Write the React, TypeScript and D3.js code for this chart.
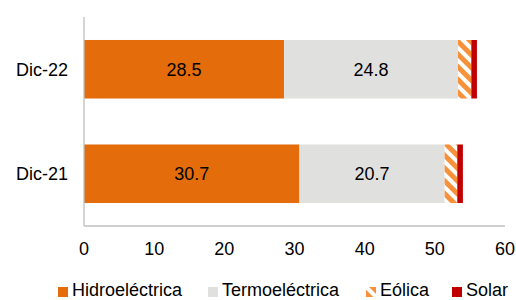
import { useEffect, useRef } from 'react'
import * as d3 from 'd3'

const categories = ['Dic-22', 'Dic-21']
const seriesNames = ['Hidroeléctrica', 'Termoeléctrica', 'Eólica', 'Solar']
const hidro = [28.5, 30.7]
const termo = [24.8, 20.7]
const eolica = [1.9, 1.8]
const solar = [0.8, 0.8]
const xTicks = [0, 10, 20, 30, 40, 50, 60]

const colors = ['#E46C0A', '#E0E0DF', 'url(#eolicaHatch)', '#C00000']

export default function App() {
  const svgRef = useRef<SVGSVGElement>(null)

  useEffect(() => {
    if (!svgRef.current) return
    const svg = d3.select(svgRef.current)
    svg.selectAll('*').remove()

    const width = 516
    const height = 300
    const margin = { left: 84, right: 11, top: 17, bottom: 74 }
    const font = 'Liberation Sans, Arial, sans-serif'
    const fs = '18px'

    // hatch pattern for wind
    const defs = svg.append('defs')
    const pat = defs.append('pattern')
      .attr('id', 'eolicaHatch')
      .attr('patternUnits', 'userSpaceOnUse')
      .attr('width', 9)
      .attr('height', 9)
      .attr('patternTransform', 'rotate(45)')
    pat.append('rect').attr('width', 9).attr('height', 9).attr('fill', '#ffffff')
    pat.append('rect').attr('width', 9).attr('height', 5).attr('fill', '#F7923A')

    const x = d3.scaleLinear().domain([0, 60]).range([margin.left, width - margin.right])
    const y = d3.scaleBand().domain(categories).range([margin.top, height - margin.bottom]).paddingInner(0.44).paddingOuter(0.22)

    const rows = categories.map((c, i) => ({ cat: c, vals: [hidro[i], termo[i], eolica[i], solar[i]] }))

    rows.forEach(r => {
      let acc = 0
      r.vals.forEach((v, k) => {
        svg.append('rect')
          .attr('x', x(acc))
          .attr('y', y(r.cat)!)
          .attr('width', x(acc + v) - x(acc))
          .attr('height', y.bandwidth())
          .attr('fill', colors[k])
        if (k < 2) {
          svg.append('text')
            .attr('x', (x(acc) + x(acc + v)) / 2)
            .attr('y', y(r.cat)! + y.bandwidth() / 2 + 6.5)
            .attr('text-anchor', 'middle')
            .style('font-family', font)
            .style('font-size', fs)
            .attr('fill', '#000')
            .text(v.toFixed(1))
        }
        acc += v
      })
    })

    // axes
    const bottom = height - margin.bottom
    svg.append('line')
      .attr('x1', margin.left).attr('x2', margin.left)
      .attr('y1', margin.top).attr('y2', bottom)
      .attr('stroke', '#BFBFBF').attr('stroke-width', 1.3)
    svg.append('line')
      .attr('x1', margin.left).attr('x2', width - margin.right)
      .attr('y1', bottom).attr('y2', bottom)
      .attr('stroke', '#BFBFBF').attr('stroke-width', 1.3)

    svg.selectAll('.xt')
      .data(xTicks)
      .enter().append('text')
      .attr('x', d => x(d))
      .attr('y', bottom + 29)
      .attr('text-anchor', 'middle')
      .style('font-family', font)
      .style('font-size', fs)
      .text(d => d)

    svg.selectAll('.yt')
      .data(categories)
      .enter().append('text')
      .attr('x', margin.left - 16)
      .attr('y', d => y(d)! + y.bandwidth() / 2 + 6.5)
      .attr('text-anchor', 'end')
      .style('font-family', font)
      .style('font-size', fs)
      .text(d => d)

    // legend
    const legendX = [58, 208, 366, 452]
    seriesNames.forEach((n, k) => {
      svg.append('rect')
        .attr('x', legendX[k]).attr('y', 287)
        .attr('width', 10).attr('height', 10)
        .attr('fill', colors[k])
      svg.append('text')
        .attr('x', legendX[k] + 14)
        .attr('y', 296)
        .style('font-family', font)
        .style('font-size', fs)
        .text(n)
    })
  }, [])

  return (
    <svg ref={svgRef} width={516} height={300} style={{ position: 'absolute', left: 0, top: 0 }} />
  )
}
